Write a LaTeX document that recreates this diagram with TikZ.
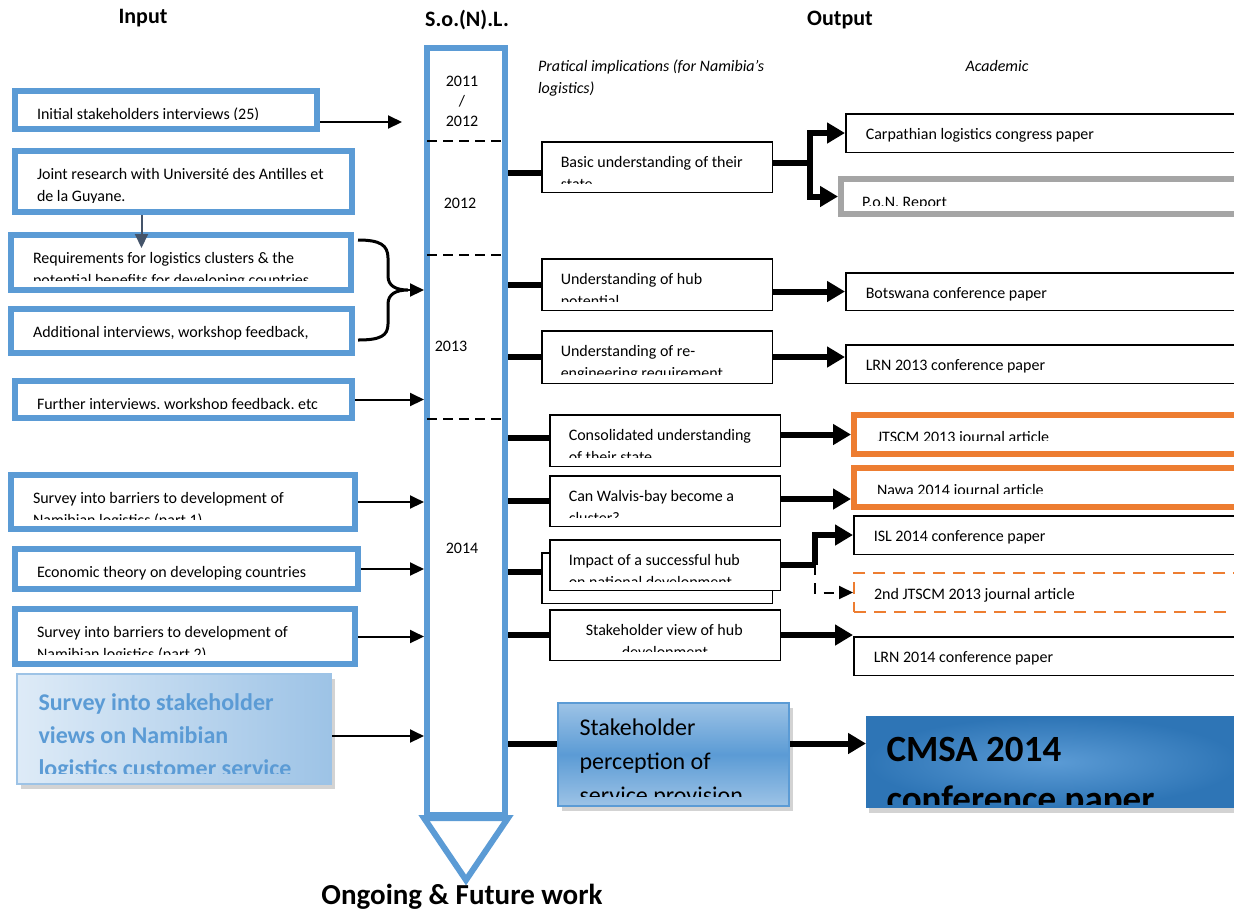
\documentclass[tikz,border=0pt]{standalone}
\usepackage{fontspec}
\setmainfont{Carlito}
\usetikzlibrary{arrows.meta,shadows,calc}

\definecolor{inblue}{HTML}{5B9BD5}
\definecolor{skyblue}{HTML}{9DC3E6}
\definecolor{paleblue}{HTML}{DEEBF7}
\definecolor{deepblue}{HTML}{2E75B6}
\definecolor{slate}{HTML}{44546A}
\definecolor{pongray}{HTML}{A5A5A5}
\definecolor{jorange}{HTML}{ED7D31}

\newcommand{\boxfont}{\fontsize{8}{11}\selectfont}

\tikzset{
  % text of a box, clipped like a word text box: x, y of first baseline, bottom inset, font, text
  boxtext/.style n args={5}{path picture={
      \clip (path picture bounding box.north west) rectangle ([yshift=#3]path picture bounding box.south east);
      \node [anchor=base west, inner sep=0pt, outer sep=0pt, minimum size=0pt, draw=none, fill=none,
             text=black, #4] at ([shift={(#1,-#2)}]path picture bounding box.north west)
             {\begin{tabular}[t]{@{}l@{}}#5\end{tabular}};}},
  inbox/.style={draw=inblue, line width=3pt, fill=white, inner sep=0pt, anchor=north west,
    boxtext={11pt}{14pt}{5pt}{font=\boxfont}{#1}},
  midbox/.style={draw=black, line width=0.75pt, fill=white, inner sep=0pt, anchor=north west,
    boxtext={9.5pt}{13pt}{4.5pt}{font=\boxfont}{#1}},
  outbox/.style={draw=black, line width=0.75pt, fill=white, inner sep=0pt, anchor=north west,
    boxtext={10pt}{13pt}{3pt}{font=\boxfont}{#1}},
  ponbox/.style={draw=pongray, line width=3pt, fill=white, inner sep=0pt, anchor=north west,
    boxtext={10.5pt}{14pt}{4.5pt}{font=\boxfont}{#1}},
  jbox/.style={draw=jorange, line width=3pt, fill=white, inner sep=0pt, anchor=north west,
    boxtext={11.5pt}{13.5pt}{7pt}{font=\boxfont}{#1}},
  dashbox/.style={draw=jorange, line width=1pt, dash pattern=on 6pt off 4pt, fill=white, inner sep=0pt, anchor=north west,
    boxtext={10pt}{13.25pt}{3pt}{font=\boxfont}{#1}},
  viewbox/.style={draw=skyblue, line width=1pt, left color=paleblue, right color=skyblue, inner sep=0pt, anchor=north west,
    drop shadow={shadow xshift=2pt, shadow yshift=-2.5pt, opacity=0.35},
    boxtext={10.75pt}{18pt}{5.5pt}{font=\fontsize{12}{16.5}\selectfont\bfseries, text=inblue}{#1}},
  percbox/.style={draw=inblue, line width=1pt, top color=skyblue, bottom color=skyblue, middle color=inblue, inner sep=0pt, anchor=north west,
    drop shadow={shadow xshift=2pt, shadow yshift=-2.5pt, opacity=0.35},
    boxtext={10.75pt}{16.25pt}{4.75pt}{font=\fontsize{12}{17}\selectfont}{#1}},
  cmsabox/.style={draw=deepblue, line width=1pt, inner color=inblue, outer color=deepblue, inner sep=0pt, anchor=north west,
    drop shadow={shadow xshift=1pt, shadow yshift=-3pt, opacity=0.35},
    boxtext={9.75pt}{22pt}{1.25pt}{font=\fontsize{18.5}{25}\selectfont\bfseries}{#1}},
  column/.style={draw=inblue, line width=3pt, fill=white, inner sep=0pt, anchor=north west},
  colline/.style={draw=inblue, line width=3pt, fill=white},
  divider/.style={line width=1pt, dash pattern=on 5pt off 3pt},
  head/.style={font=\fontsize{11}{13}\selectfont\bfseries},
  note/.style={font=\fontsize{8}{11}\selectfont\itshape},
  foot/.style={font=\fontsize{14.5}{17}\selectfont\bfseries},
  yearlabel/.style={font=\fontsize{8}{10}\selectfont, align=center},
  fatline/.style={line width=3pt},
  fat/.style={line width=3pt, -{Triangle[length=9pt, width=10pt]}},
  slim/.style={line width=1pt, -{Triangle[length=7pt, width=6.5pt]}},
  dasharrow/.style={line width=1pt, dash pattern=on 5pt off 4pt, -{Triangle[length=7pt, width=6.5pt]}},
  bracepen/.style={line width=1.5pt},
}

\begin{document}
\begin{tikzpicture}
    [x=0.5pt, y=-0.5pt]

    \useasboundingbox (0,0) rectangle (1234,912);
    \clip (0,0) rectangle (1234,912);

    % headings
    \node [head] at (143, 18) (hin) {Input};
    \node [head] at (467, 20) (hson) {S.o.(N).L.};
    \node [head] at (840, 20) (hout) {Output};
    \node [note, anchor=base west, align=left] at (531, 93) (prac) {Pratical implications (for Namibia’s\\logistics)};
    \node [note] at (997, 66) (acad) {Academic};

    % input
    \node [inbox={Initial stakeholders interviews (25)}, minimum width=151pt, minimum height=19pt] at (12, 88) (initial) {};
    \node [inbox={Joint research with Université des Antilles et\\de la Guyane.}, minimum width=168.5pt, minimum height=30.5pt] at (12, 148) (joint) {};
    \node [inbox={Requirements for logistics clusters \& the\\potential benefits for developing countries}, minimum width=170pt, minimum height=27.5pt] at (8, 232) (req) {};
    \node [inbox={Additional interviews, workshop feedback,}, minimum width=170.5pt, minimum height=22pt] at (8, 306) (addl) {};
    \node [inbox={Further interviews, workshop feedback, etc}, minimum width=168.5pt, minimum height=18.5pt] at (12, 378) (further) {};
    \node [inbox={Survey into barriers to development of\\Namibian logistics (part 1)}, minimum width=172pt, minimum height=27pt] at (8, 472) (surveya) {};
    \node [inbox={Economic theory on developing countries}, minimum width=171.5pt, minimum height=20pt] at (12, 546) (econ) {};
    \node [inbox={Survey into barriers to development of\\Namibian logistics (part 2)}, minimum width=170pt, minimum height=27.5pt] at (12, 606) (surveyb) {};
    \node [viewbox={Survey into stakeholder\\views on Namibian\\logistics customer service}, minimum width=157pt, minimum height=55pt] at (16, 673) (views) {};

    % S.o.(N).L. column
    \node [column, minimum width=39pt, minimum height=383.5pt] at (424, 45) (sonl) {};
    \draw [colline] (sonl.south west) -- (sonl.south east) -- ($(sonl.south)+(0,62)$) -- cycle;
    \draw [divider] (427, 141) -- (505, 141);
    \draw [divider] (427, 255) -- (505, 255);
    \draw [divider] (427, 419) -- (505, 419);
    \node [yearlabel] at (462, 101) (y1112) {2011\\/\\2012};
    \node [yearlabel] at (460, 203) (y12) {2012};
    \node [yearlabel] at (451, 346) (y13) {2013};
    \node [yearlabel] at (462, 548) (y14) {2014};
    \node [foot] at (462, 897) (future) {Ongoing \& Future work};

    % practical implications
    \node [midbox={Basic understanding of their\\state}, minimum width=115.25pt, minimum height=25.25pt] at (541, 141) (basic) {};
    \node [midbox={Understanding of hub\\potential}, minimum width=115.25pt, minimum height=25.75pt] at (541, 258) (hub) {};
    \node [midbox={Understanding of re-\\engineering requirement}, minimum width=115.25pt, minimum height=26.25pt] at (541, 330) (reeng) {};
    \node [midbox={Consolidated understanding\\of their state}, minimum width=115.25pt, minimum height=25.75pt] at (549, 414) (consol) {};
    \node [midbox={Can Walvis-bay become a\\cluster?}, minimum width=115.25pt, minimum height=25.25pt] at (549, 475) (walvis) {};
    \node [midbox={}, minimum width=115.25pt, minimum height=25.25pt] at (541, 552) (behind) {};
    \node [midbox={Impact of a successful hub\\on national development}, minimum width=115.25pt, minimum height=25.25pt] at (549, 539) (impact) {};
    \node [midbox={\hspace*{8.5pt}Stakeholder view of hub\\\hspace*{26.5pt}development}, minimum width=115.25pt, minimum height=25.25pt] at (549, 609) (stview) {};
    \node [percbox={Stakeholder\\perception of\\service provision}, minimum width=115.5pt, minimum height=51.5pt] at (557, 702) (percep) {};

    % academic output
    \node [outbox={Carpathian logistics congress paper}, minimum width=196.75pt, minimum height=19.25pt] at (845, 113) (carpat) {};
    \node [ponbox={P.o.N. Report}, minimum width=198pt, minimum height=17.5pt] at (838, 176) (pon) {};
    \node [outbox={Botswana conference paper}, minimum width=196.75pt, minimum height=18.75pt] at (845, 272) (botsw) {};
    \node [outbox={LRN 2013 conference paper}, minimum width=196.75pt, minimum height=19.25pt] at (845, 344) (lrna) {};
    \node [jbox={JTSCM 2013 journal article}, minimum width=191.5pt, minimum height=19.5pt] at (851, 412) (jtscm) {};
    \node [jbox={Nawa 2014 journal article}, minimum width=191.5pt, minimum height=19.5pt] at (851, 465) (nawa) {};
    \node [outbox={ISL 2014 conference paper}, minimum width=192.75pt, minimum height=19.25pt] at (853, 515) (isl) {};
    \node [dashbox={2nd JTSCM 2013 journal article}, minimum width=193pt, minimum height=19.5pt] at (853, 572) (jtscmb) {};
    \node [outbox={LRN 2014 conference paper}, minimum width=192.75pt, minimum height=19.25pt] at (853, 636) (lrnb) {};
    \node [cmsabox={CMSA 2014\\conference paper}, minimum width=186pt, minimum height=45pt] at (866, 716) (cmsa) {};

    % inputs into the column
    \draw [slim] ($(initial.east)+(0,12)$) -- ++(82,0);
    \draw [slim, color=slate] ($(joint.south)+(-42,0)$) -- ($(req.north -| joint.south)+(-42,16)$);
    \coordinate (bracetip) at (408, 290);
    \draw [bracepen] (358, 240) .. controls (380, 240) and (388, 245) .. (388, 258) -- (388, 276)
      .. controls (388, 286) and (396, 290) .. (bracetip)
      .. controls (396, 290) and (388, 294) .. (388, 304) -- (388, 324)
      .. controls (388, 336) and (380, 340) .. (358, 340);
    \draw [slim] (bracetip) -- (bracetip -| sonl.west);
    \draw [slim] (further.east) -- (further.east -| sonl.west);
    \draw [slim] (surveya.east) -- (surveya.east -| sonl.west);
    \draw [slim] (econ.east) -- (econ.east -| sonl.west);
    \draw [slim] (surveyb.east) -- (surveyb.east -| sonl.west);
    \draw [slim] ($(views.east)+(0,7)$) -- ($(views.east -| sonl.west)+(0,7)$);

    % column to implications
    \draw [fatline] ($(basic.west -| sonl.east)+(0,6)$) -- ($(basic.west)+(0,6)$);
    \draw [fatline] (hub.west -| sonl.east) -- (hub.west);
    \draw [fatline] (reeng.west -| sonl.east) -- (reeng.west);
    \draw [fatline] ($(consol.west -| sonl.east)+(0,-3)$) -- ($(consol.west)+(0,-3)$);
    \draw [fatline] (walvis.west -| sonl.east) -- (walvis.west);
    \draw [fatline] ($(behind.west -| sonl.east)+(0,-6)$) -- ($(behind.west)+(0,-6)$);
    \draw [fatline] (stview.west -| sonl.east) -- (stview.west);
    \draw [fatline] ($(percep.west -| sonl.east)+(0,-11)$) -- ($(percep.west)+(0,-11)$);

    % implications to output
    \draw [fatline] ($(basic.east)+(0,-4)$) -- ++(37,0) coordinate (basicfork);
    \draw [fat] (basicfork) |- (carpat.west);
    \draw [fat] (basicfork) |- (pon.west);
    \draw [fat] (botsw.west -| hub.east) -- (botsw.west);
    \draw [fat] (reeng.east) -- (reeng.east -| lrna.west);
    \draw [fat] (jtscm.west -| consol.east) -- (jtscm.west);
    \draw [fat] ($(walvis.east)+(0,-2)$) -- ($(walvis.east -| nawa.west)+(0,-2)$);
    \draw [fatline] (impact.east) -- ++(34,0) coordinate (impactfork);
    \draw [fat] (impactfork) |- (isl.west);
    \draw [dasharrow] (impactfork) |- (jtscmb.west);
    \draw [fat] (stview.east) -- (stview.east -| lrnb.west);
    \draw [fat] ($(percep.east)+(0,-11)$) -- ($(percep.east -| cmsa.west)+(0,-11)$);

  \end{tikzpicture}
\end{document}
